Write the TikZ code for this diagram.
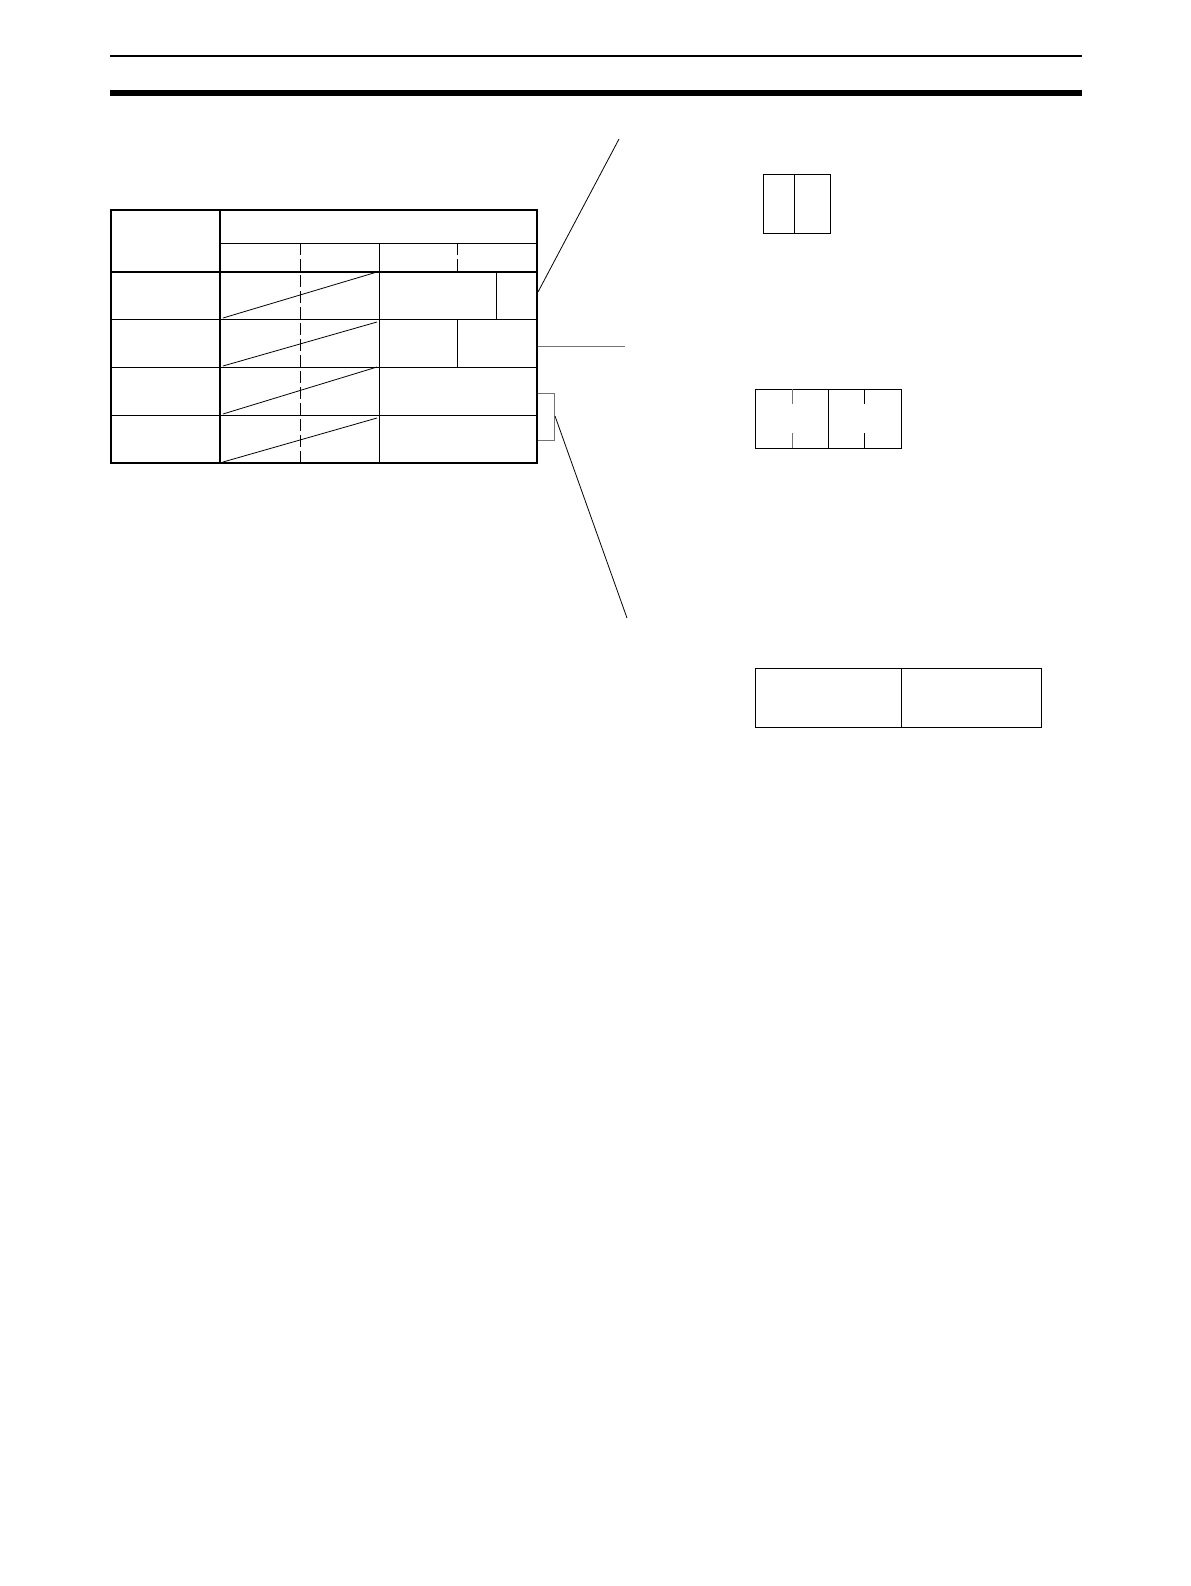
\documentclass[tikz,border=0pt]{standalone}
\usetikzlibrary{calc}
\begin{document}
\begin{tikzpicture}[x=0.5pt,y=-0.5pt,
    tablethin/.style={line width=0.4pt},
    tablethick/.style={line width=0.75pt},
    gridcut/.style={line width=0.4pt,dash pattern=on 6pt off 2pt},
    leader/.style={line width=0.4pt},
    fieldbox/.style={line width=0.45pt}]
    \useasboundingbox (0,0) rectangle (1190,1586);
    % page rules
    \draw[line width=1pt] (110,56) -- (1082,56);
    \draw[line width=3pt] (110,93) -- (1082,93);
    % table corners
    \coordinate (TL) at (111,210);
    \coordinate (BR) at (537,463);
    \coordinate (TR) at (537,210);
    % inner lines
    \draw[tablethin] (220,243) -- (537,243);
    \foreach \y in {319,367,415} {
        \draw[tablethin] (111,\y) -- (537,\y);
    }
    \draw[tablethin] (379,243) -- (379,463);
    \draw[gridcut] (300,243) -- (300,463);
    \draw[gridcut] (457,243) -- (457,272);
    \draw[tablethin] (496,272) -- (496,319);
    \draw[tablethin] (457,319) -- (457,367);
    \foreach \ya/\yb in {318/272, 366/322, 414/367, 462/418} {
        \draw[tablethin] (223,\ya) -- (377,\yb);
    }
    \draw[tablethick] (111,272) -- (537,272);
    \draw[tablethick] (220,210) -- (220,463);
    \draw[tablethick] (TL) rectangle (BR);
    % leaders
    \coordinate (L1) at (538,292);
    \coordinate (L2) at (538,346);
    \coordinate (L3) at (555,416);
    \draw[leader] (L1) -- (619,139);
    \draw[leader,black!55] (L2) -- (625,346);
    \draw[leader,black!55] (538,393) -- (554,393) -- (554,440) -- (538,440);
    \draw[leader] (L3) -- (627,618);
    % field boxes
    \draw[fieldbox] (763,174) rectangle (830,233);
    \draw[fieldbox] (794,174) -- (794,233);
    \draw[fieldbox] (755,389) rectangle (901,448);
    \draw[fieldbox] (828,389) -- (828,448);
    \foreach \x/\c in {792/black!55, 864/black} {
        \draw[fieldbox,\c] (\x,389) -- (\x,404);
        \draw[fieldbox,\c] (\x,433) -- (\x,448);
    }
    \draw[fieldbox] (755,668) rectangle (1041,727);
    \draw[fieldbox] (901,668) -- (901,727);
\end{tikzpicture}
\end{document}
